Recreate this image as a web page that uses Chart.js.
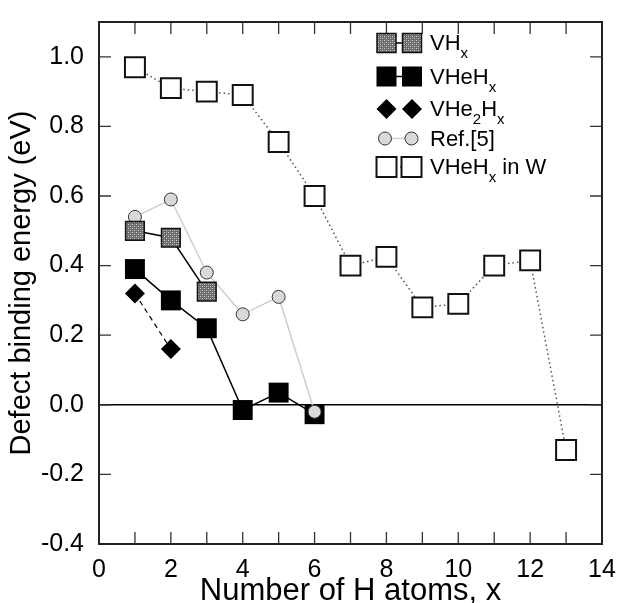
<!DOCTYPE html>
<html>
<head>
<meta charset="utf-8">
<script src="https://cdn.jsdelivr.net/npm/chart.js"></script>
<style>
  html, body { margin: 0; padding: 0; background: #fff; }
  #wrap { width: 621px; height: 603px; }
</style>
</head>
<body>
<div id="wrap"><canvas id="chart" width="621" height="603"></canvas></div>
<script>
// values
const hAtoms = [1, 2, 3, 4, 5, 6, 7, 8, 9, 10, 11, 12, 13]
const vhValues = [0.50, 0.48, 0.325]
const vhehValues = [0.39, 0.30, 0.22, -0.015, 0.035, -0.027]
const vhe2hValues = [0.32, 0.16]
const ref5Values = [0.54, 0.59, 0.38, 0.26, 0.31, -0.02]
const vhehInWValues = [0.97, 0.91, 0.90, 0.89, 0.755, 0.60, 0.40, 0.425, 0.28, 0.29, 0.40, 0.415, -0.13]
const xTicks = [0, 1, 2, 3, 4, 5, 6, 7, 8, 9, 10, 11, 12, 13, 14]
const yTicks = [-0.4, -0.2, 0.0, 0.2, 0.4, 0.6, 0.8, 1.0]

const FONT = "'Liberation Sans', Arial, Helvetica, sans-serif"

const toPoints = values => values.map((y, i) => ({ x: hAtoms[i], y }))

// dotted grey fill used by the VHx squares
function makePattern() {
  const c = document.createElement("canvas")
  c.width = 4
  c.height = 4
  const g = c.getContext("2d")
  g.fillStyle = "#6a6a6a"
  g.fillRect(0, 0, 4, 4)
  g.fillStyle = "#d4d4d4"
  g.fillRect(0, 0, 1, 1)
  g.fillRect(2, 2, 1, 1)
  g.fillStyle = "#9a9a9a"
  g.fillRect(2, 0, 1, 1)
  g.fillRect(0, 2, 1, 1)
  return document.getElementById("chart").getContext("2d").createPattern(c, "repeat")
}
const hatch = makePattern()

// frame, inward ticks and the zero line
const framePlugin = {
  id: "frame",
  beforeDatasetsDraw(chart) {
    const { ctx, chartArea: a, scales: { x, y } } = chart
    ctx.save()
    ctx.strokeStyle = "#000"
    ctx.lineWidth = 1.5
    const y0 = y.getPixelForValue(0)
    ctx.beginPath()
    ctx.moveTo(a.left, y0)
    ctx.lineTo(a.right, y0)
    ctx.stroke()

    ctx.strokeStyle = "#333"
    ctx.lineWidth = 1.3
    ctx.beginPath()
    xTicks.forEach(v => {
      const px = x.getPixelForValue(v)
      ctx.moveTo(px, a.bottom)
      ctx.lineTo(px, a.bottom - 12)
      ctx.moveTo(px, a.top)
      ctx.lineTo(px, a.top + 12)
    })
    yTicks.forEach(v => {
      const py = y.getPixelForValue(v)
      ctx.moveTo(a.left, py)
      ctx.lineTo(a.left + 12, py)
      ctx.moveTo(a.right, py)
      ctx.lineTo(a.right - 12, py)
    })
    ctx.stroke()
    ctx.restore()
  },
  afterDraw(chart) {
    const { ctx, chartArea: a } = chart
    ctx.save()
    ctx.strokeStyle = "#222"
    ctx.lineWidth = 2
    ctx.strokeRect(a.left, a.top, a.right - a.left, a.bottom - a.top)
    ctx.restore()
  }
}

// legend with two symbols per entry and subscripts
const legendPlugin = {
  id: "customLegend",
  afterDraw(chart) {
    const ctx = chart.ctx
    const x1 = 386.5, x2 = 412, tx = 430
    const rows = [43, 76.5, 109, 138.5, 167]

    const square = (cx, cy, s, fill, stroke, lw) => {
      ctx.fillStyle = fill
      ctx.fillRect(cx - s / 2, cy - s / 2, s, s)
      if (stroke) {
        ctx.strokeStyle = stroke
        ctx.lineWidth = lw
        ctx.strokeRect(cx - s / 2, cy - s / 2, s, s)
      }
    }
    const segment = (cy, color, lw, dash) => {
      ctx.save()
      ctx.strokeStyle = color
      ctx.lineWidth = lw
      ctx.setLineDash(dash)
      ctx.beginPath()
      ctx.moveTo(x1, cy)
      ctx.lineTo(x2, cy)
      ctx.stroke()
      ctx.restore()
    }
    const label = (parts, cy) => {
      let px = tx
      const base = cy + 7
      parts.forEach(([text, sub]) => {
        ctx.font = sub ? `15px ${FONT}` : `22px ${FONT}`
        ctx.fillStyle = "#000"
        ctx.textBaseline = "alphabetic"
        ctx.textAlign = "left"
        ctx.fillText(text, px, sub ? base + 8 : base)
        px += ctx.measureText(text).width
      })
    }

    ctx.save()
    // VHx
    segment(rows[0], "#000", 1.5, [])
    square(x1, rows[0], 19, hatch, "#111", 1.5)
    square(x2, rows[0], 19, hatch, "#111", 1.5)
    label([["VH"], ["x", true]], rows[0])
    // VHeHx
    segment(rows[1], "#000", 1.5, [])
    square(x1, rows[1], 20, "#000")
    square(x2, rows[1], 20, "#000")
    label([["VHeH"], ["x", true]], rows[1])
    // VHe2Hx
    ;[x1, x2].forEach(cx => {
      ctx.fillStyle = "#000"
      ctx.beginPath()
      ctx.moveTo(cx, rows[2] - 10)
      ctx.lineTo(cx + 10, rows[2])
      ctx.lineTo(cx, rows[2] + 10)
      ctx.lineTo(cx - 10, rows[2])
      ctx.closePath()
      ctx.fill()
    })
    label([["VHe"], ["2", true], ["H"], ["x", true]], rows[2])
    // Ref.[5]
    segment(rows[3], "#cfcfcf", 1.5, [])
    ;[x1 - 1.5, x2 - 0.5].forEach(cx => {
      ctx.beginPath()
      ctx.arc(cx, rows[3], 6.5, 0, Math.PI * 2)
      ctx.fillStyle = "#d9d9d9"
      ctx.fill()
      ctx.strokeStyle = "#333"
      ctx.lineWidth = 1
      ctx.stroke()
    })
    label([["Ref.[5]"]], rows[3])
    // VHeHx in W
    segment(rows[4], "#555", 1.5, [1.5, 3])
    square(x1, rows[4], 20, "#fff", "#111", 2)
    square(x2 - 0.5, rows[4], 20, "#fff", "#111", 2)
    label([["VHeH"], ["x", true], [" in W"]], rows[4])
    ctx.restore()
  }
}

new Chart(document.getElementById("chart"), {
  type: "line",
  data: {
    datasets: [
      {
        label: "VHx",
        data: toPoints(vhValues),
        borderColor: "#000",
        borderWidth: 1.5,
        pointStyle: "rect",
        pointRadius: 13.2,
        pointBackgroundColor: hatch,
        pointBorderColor: "#111",
        pointBorderWidth: 1.5
      },
      {
        label: "Ref.[5]",
        data: toPoints(ref5Values),
        borderColor: "#cfcfcf",
        borderWidth: 1.5,
        pointStyle: "circle",
        pointRadius: 6.5,
        pointBackgroundColor: "#d9d9d9",
        pointBorderColor: "#333",
        pointBorderWidth: 1
      },
      {
        label: "VHeHx",
        data: toPoints(vhehValues),
        borderColor: "#000",
        borderWidth: 1.5,
        pointStyle: "rect",
        pointRadius: 14.1,
        pointBackgroundColor: "#000",
        pointBorderColor: "#000",
        pointBorderWidth: 0
      },
      {
        label: "VHe2Hx",
        data: toPoints(vhe2hValues),
        borderColor: "#000",
        borderWidth: 1.2,
        borderDash: [5, 4],
        pointStyle: "rectRot",
        pointRadius: 10,
        pointBackgroundColor: "#000",
        pointBorderColor: "#000",
        pointBorderWidth: 0
      },
      {
        label: "VHeHx in W",
        data: toPoints(vhehInWValues),
        borderColor: "#555",
        borderWidth: 1.5,
        borderDash: [1.5, 3],
        pointStyle: "rect",
        pointRadius: 14.1,
        pointBackgroundColor: "#fff",
        pointBorderColor: "#111",
        pointBorderWidth: 2
      }
    ]
  },
  options: {
    responsive: false,
    animation: false,
    layout: { padding: { top: 8, right: 19, left: 0, bottom: 0 } },
    elements: { line: { tension: 0, fill: false } },
    scales: {
      x: {
        type: "linear",
        min: 0,
        max: 14,
        afterBuildTicks: scale => { scale.ticks = xTicks.map(v => ({ value: v })) },
        afterFit: scale => { scale.height = 59 },
        grid: { display: false },
        border: { display: false },
        ticks: {
          autoSkip: false,
          maxRotation: 0,
          padding: 3,
          color: "#000",
          font: { family: FONT, size: 25 },
          callback: v => (v % 2 === 0 ? String(v) : "")
        },
        title: {
          display: true,
          text: "Number of H atoms, x",
          color: "#000",
          font: { family: FONT, size: 31, lineHeight: 1 },
          padding: { top: 0, bottom: -4 }
        }
      },
      y: {
        min: -0.4,
        max: 1.1,
        afterBuildTicks: scale => { scale.ticks = yTicks.map(v => ({ value: v })) },
        afterFit: scale => { scale.width = 99 },
        grid: { display: false },
        border: { display: false },
        ticks: {
          padding: 7,
          color: "#000",
          font: { family: FONT, size: 25 },
          callback: v => v.toFixed(1)
        },
        title: {
          display: true,
          text: "Defect binding energy (eV)",
          color: "#000",
          font: { family: FONT, size: 29, lineHeight: 1 },
          padding: { top: 7, bottom: 0 }
        }
      }
    },
    plugins: {
      legend: { display: false },
      tooltip: { enabled: false }
    }
  },
  plugins: [framePlugin, legendPlugin]
})
</script>
</body>
</html>
